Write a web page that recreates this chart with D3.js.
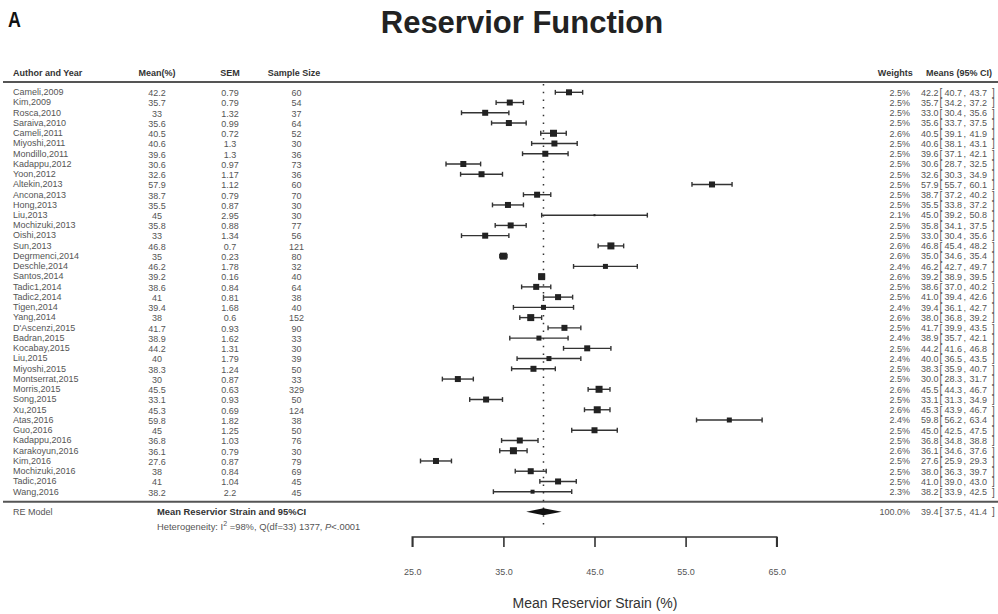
<!DOCTYPE html>
<html><head><meta charset="utf-8">
<script src="https://cdn.jsdelivr.net/npm/d3@7"></script>
<style>body{margin:0;background:#fff}svg{display:block}text{font-family:"Liberation Sans",Arial,sans-serif}</style>
</head><body>
<svg id="chart" width="998" height="614"></svg>
<script>
const authors = ["Cameli,2009","Kim,2009","Rosca,2010","Saraiva,2010","Cameli,2011","Miyoshi,2011","Mondillo,2011","Kadappu,2012","Yoon,2012","Altekin,2013","Ancona,2013","Hong,2013","Liu,2013","Mochizuki,2013","Oishi,2013","Sun,2013","Degrmenci,2014","Deschle,2014","Santos,2014","Tadic1,2014","Tadic2,2014","Tigen,2014","Yang,2014","D'Ascenzi,2015","Badran,2015","Kocabay,2015","Liu,2015","Miyoshi,2015","Montserrat,2015","Morris,2015","Song,2015","Xu,2015","Atas,2016","Guo,2016","Kadappu,2016","Karakoyun,2016","Kim,2016","Mochizuki,2016","Tadic,2016","Wang,2016"];
const means = [42.2,35.7,33,35.6,40.5,40.6,39.6,30.6,32.6,57.9,38.7,35.5,45,35.8,33,46.8,35,46.2,39.2,38.6,41,39.4,38,41.7,38.9,44.2,40,38.3,30,45.5,33.1,45.3,59.8,45,36.8,36.1,27.6,38,41,38.2];
const sems = [0.79,0.79,1.32,0.99,0.72,1.3,1.3,0.97,1.17,1.12,0.79,0.87,2.95,0.88,1.34,0.7,0.23,1.78,0.16,0.84,0.81,1.68,0.6,0.93,1.62,1.31,1.79,1.24,0.87,0.63,0.93,0.69,1.82,1.25,1.03,0.79,0.87,0.84,1.04,2.2];
const sampleSizes = [60,54,37,64,52,30,36,73,36,60,70,30,30,77,56,121,80,32,40,64,38,40,152,90,33,30,39,50,33,329,50,124,38,50,76,30,79,69,45,45];
const weights = [2.5,2.5,2.5,2.5,2.6,2.5,2.5,2.5,2.5,2.5,2.5,2.5,2.1,2.5,2.5,2.6,2.6,2.4,2.6,2.5,2.5,2.4,2.6,2.5,2.4,2.5,2.4,2.5,2.5,2.6,2.5,2.6,2.4,2.5,2.5,2.6,2.5,2.5,2.5,2.3];
const ciLow = [40.7,34.2,30.4,33.7,39.1,38.1,37.1,28.7,30.3,55.7,37.2,33.8,39.2,34.1,30.4,45.4,34.6,42.7,38.9,37.0,39.4,36.1,36.8,39.9,35.7,41.6,36.5,35.9,28.3,44.3,31.3,43.9,56.2,42.5,34.8,34.6,25.9,36.3,39.0,33.9];
const ciHigh = [43.7,37.2,35.6,37.5,41.9,43.1,42.1,32.5,34.9,60.1,40.2,37.2,50.8,37.5,35.6,48.2,35.4,49.7,39.5,40.2,42.6,42.7,39.2,43.5,42.1,46.8,43.5,40.7,31.7,46.7,34.9,46.7,63.4,47.5,38.8,37.6,29.3,39.7,43.0,42.5];
const summary = {label:"RE Model", weight:"100.0%", est:39.4, low:37.5, high:41.4};
const axisTicks = [25,35,45,55,65];
const headers = ["Author and Year","Mean(%)","SEM","Sample Size","Weights","Means (95% CI)"];

const svg = d3.select("#chart");
const x = d3.scaleLinear().domain([25,65]).range([412.3,776.7]);
const y = d3.scaleLinear().domain([0,authors.length-1]).range([92.3,491.7]);
const size = d3.scaleLinear().domain([2.1,2.6]).range([2,7]);
const txt = "#555", dark = "#222";

// Title
svg.append("text").attr("x",8).attr("y",27).attr("font-size",21).attr("font-weight","bold").attr("fill","#111").attr("transform","translate(8,27) scale(0.85,1.05) translate(-8,-27)").text("A");
svg.append("text").attr("x",522).attr("y",33).attr("text-anchor","middle").attr("font-size",31).attr("font-weight","bold").attr("fill","#222").text("Reservior Function");

// headers
const hy = 76;
const hdr = [[13,"start"],[157,"middle"],[230,"middle"],[294,"middle"],[912.7,"end"],[926,"start"]];
headers.forEach((h,i)=>{
  svg.append("text").attr("x",hdr[i][0]).attr("y",hy).attr("text-anchor",hdr[i][1])
    .attr("font-size",9).attr("font-weight","bold").attr("fill","#333").text(h);
});
// separators
[82,501.7].forEach(yy=>svg.append("line").attr("x1",3).attr("x2",998).attr("y1",yy).attr("y2",yy).attr("stroke","#555").attr("stroke-width",2));

// reference dotted line
svg.append("line").attr("x1",x(summary.est)).attr("x2",x(summary.est)).attr("y1",84).attr("y2",530)
  .attr("stroke","#333").attr("stroke-width",1.5).attr("stroke-dasharray","1.5,6.2");

// rows
const rows = svg.append("g");
authors.forEach((a,i)=>{
  const yy = y(i)+3.3;
  rows.append("text").attr("x",13).attr("y",yy-0.5).attr("font-size",9).attr("fill",txt).text(a);
  rows.append("text").attr("x",157).attr("y",yy+0.5).attr("text-anchor","middle").attr("font-size",9).attr("fill",txt).text(String(means[i]));
  rows.append("text").attr("x",230).attr("y",yy+0.5).attr("text-anchor","middle").attr("font-size",9).attr("fill",txt).text(String(sems[i]));
  rows.append("text").attr("x",296.5).attr("y",yy+0.5).attr("text-anchor","middle").attr("font-size",9).attr("fill",txt).text(String(sampleSizes[i]));
  rows.append("text").attr("x",910).attr("y",yy).attr("text-anchor","end").attr("font-size",9).attr("fill",txt).text(weights[i].toFixed(1)+"%");
  rows.append("text").attr("x",938.5).attr("y",yy).attr("text-anchor","end").attr("font-size",9).attr("fill",txt).text(means[i].toFixed(1));
  rows.append("text").attr("x",939.5).attr("y",yy+0.5).attr("font-size",10).attr("fill",txt).text("[");
  rows.append("text").attr("x",962).attr("y",yy).attr("text-anchor","end").attr("font-size",9).attr("fill",txt).text(ciLow[i].toFixed(1));
  rows.append("text").attr("x",963.5).attr("y",yy).attr("font-size",9).attr("fill",txt).text(",");
  rows.append("text").attr("x",987).attr("y",yy).attr("text-anchor","end").attr("font-size",9).attr("fill",txt).text(ciHigh[i].toFixed(1));
  rows.append("text").attr("x",992).attr("y",yy+0.5).attr("font-size",10).attr("fill",txt).text("]");
});

// error bars
const eb = svg.append("g").attr("stroke","#333").attr("stroke-width",1.4);
authors.forEach((a,i)=>{
  const yy = y(i);
  eb.append("line").attr("x1",x(ciLow[i])).attr("x2",x(ciHigh[i])).attr("y1",yy).attr("y2",yy);
  [ciLow[i],ciHigh[i]].forEach(v=>eb.append("line").attr("x1",x(v)).attr("x2",x(v)).attr("y1",yy-2.4).attr("y2",yy+2.4));
});
svg.append("g").selectAll("rect").data(authors).join("rect")
  .attr("x",(d,i)=>x(means[i])-size(weights[i])/2)
  .attr("y",(d,i)=>y(i)-size(weights[i])/2)
  .attr("width",(d,i)=>size(weights[i])).attr("height",(d,i)=>size(weights[i]))
  .attr("fill",dark);

// summary row
const sy = 511.8;
svg.append("text").attr("x",13).attr("y",sy+3).attr("font-size",9).attr("fill",txt).text(summary.label);
svg.append("text").attr("x",157).attr("y",sy+3).attr("font-size",9.4).attr("font-weight","bold").attr("fill","#333").text("Mean Reservior Strain and 95%CI");
const het = svg.append("text").attr("x",157).attr("y",530).attr("font-size",9.4).attr("fill",txt);
het.append("tspan").text("Heterogeneity: I");
het.append("tspan").attr("dy",-4).attr("font-size",7).text("2");
het.append("tspan").attr("dy",4).text(" =98%,  Q(df=33) 1377,  ");
het.append("tspan").attr("font-style","italic").text("P");
het.append("tspan").text("<.0001");
svg.append("path")
  .attr("d",`M${x(summary.low)},${sy} L${x(summary.est)},${sy-3.5} L${x(summary.high)},${sy} L${x(summary.est)},${sy+3.5} Z`)
  .attr("fill","#111");
svg.append("text").attr("x",910).attr("y",sy+3).attr("text-anchor","end").attr("font-size",9).attr("fill",txt).text(summary.weight);
svg.append("text").attr("x",938.5).attr("y",sy+3).attr("text-anchor","end").attr("font-size",9).attr("fill",txt).text(summary.est.toFixed(1));
svg.append("text").attr("x",939.5).attr("y",sy+3.5).attr("font-size",10).attr("fill",txt).text("[");
svg.append("text").attr("x",962).attr("y",sy+3).attr("text-anchor","end").attr("font-size",9).attr("fill",txt).text(summary.low.toFixed(1));
svg.append("text").attr("x",963.5).attr("y",sy+3).attr("font-size",9).attr("fill",txt).text(",");
svg.append("text").attr("x",987).attr("y",sy+3).attr("text-anchor","end").attr("font-size",9).attr("fill",txt).text(summary.high.toFixed(1));
svg.append("text").attr("x",992).attr("y",sy+3.5).attr("font-size",10).attr("fill",txt).text("]");

// axis
const axis = d3.axisBottom(x).tickValues(axisTicks).tickSize(10).tickPadding(22).tickFormat(d3.format(".1f"));
const ag = svg.append("g").attr("transform","translate(0,537)").call(axis);
ag.select(".domain").attr("stroke","#333").attr("stroke-width",1.6).attr("d",`M${x(25)},10V0H${x(65)}V10`);
ag.selectAll(".tick line").attr("stroke","#333").attr("stroke-width",1.6);
ag.selectAll(".tick text").attr("font-size",9).attr("fill",txt).attr("font-family","Liberation Sans, Arial, sans-serif");
svg.append("text").attr("x",595).attr("y",608).attr("text-anchor","middle").attr("font-size",14).attr("fill","#333").text("Mean Reservior Strain (%)");
</script>
</body></html>
